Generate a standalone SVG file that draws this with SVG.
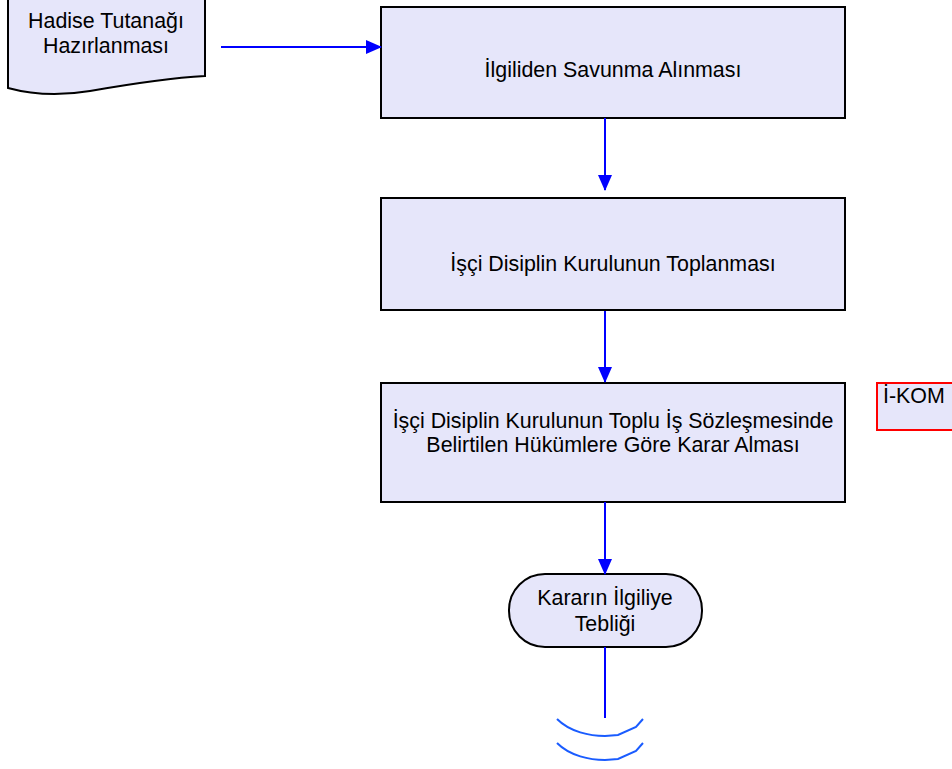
<svg xmlns="http://www.w3.org/2000/svg" width="952" height="769" viewBox="0 0 952 769">
<style>
.n{fill:#e6e6fa;stroke:#000;stroke-width:2}
.t{font-family:"Liberation Sans",Arial,sans-serif;font-size:21.4px;fill:#000;text-anchor:middle}
.c{stroke:#0000ff;stroke-width:2;fill:none}
.w{stroke:#1a5cff;stroke-width:2;fill:none}
</style>
<defs>
<marker id="ah" markerWidth="16" markerHeight="14" refX="15" refY="7" orient="auto" markerUnits="userSpaceOnUse" viewBox="0 0 16 14">
<path d="M0,0 L16,7 L0,14 Z" fill="#0000ff"/>
</marker>
</defs>
<rect width="952" height="769" fill="#fff"/>
<g id="doc">
<path class="n" d="M8,-5 L205,-5 L205,76 C170,78 130,84 90,91 C60,96 30,94 8,88 Z"/>
<text class="t" x="106" y="28">Hadise Tutanağı</text>
<text class="t" x="106" y="53">Hazırlanması</text>
</g>
<g id="box1">
<rect class="n" x="381" y="7" width="464" height="111"/>
<text class="t" x="613" y="77">İlgiliden Savunma Alınması</text>
</g>
<g id="box2">
<rect class="n" x="381" y="198" width="464" height="112"/>
<text class="t" x="613" y="271">İşçi Disiplin Kurulunun Toplanması</text>
</g>
<g id="box3">
<rect class="n" x="381" y="383" width="464" height="119"/>
<text class="t" x="613" y="428">İşçi Disiplin Kurulunun Toplu İş Sözleşmesinde</text>
<text class="t" x="613" y="452">Belirtilen Hükümlere Göre Karar Alması</text>
</g>
<g id="kom">
<rect x="877" y="383" width="90" height="47" fill="#e6e6fa" stroke="#ff0000" stroke-width="2"/>
<text class="t" x="883" y="403" style="text-anchor:start">İ-KOM</text>
</g>
<g id="term">
<rect class="n" x="509" y="574" width="193" height="73" rx="36" ry="36"/>
<text class="t" x="605" y="605">Kararın İlgiliye</text>
<text class="t" x="605" y="631">Tebliği</text>
</g>
<g id="connectors">
<line class="c" x1="221" y1="47" x2="381" y2="47" marker-end="url(#ah)"/>
<line class="c" x1="605" y1="118" x2="605" y2="190" marker-end="url(#ah)"/>
<line class="c" x1="605" y1="311" x2="605" y2="382" marker-end="url(#ah)"/>
<line class="c" x1="605" y1="502" x2="605" y2="574" marker-end="url(#ah)"/>
<line class="c" x1="605" y1="647" x2="605" y2="718"/>
<path class="w" d="M557,719 C570,732 590,736 605,736 L618,735 L636,727 L643,719"/>
<path class="w" d="M557,743 C570,756 590,760 605,760 L618,759 L636,751 L643,743"/>
</g>
</svg>
